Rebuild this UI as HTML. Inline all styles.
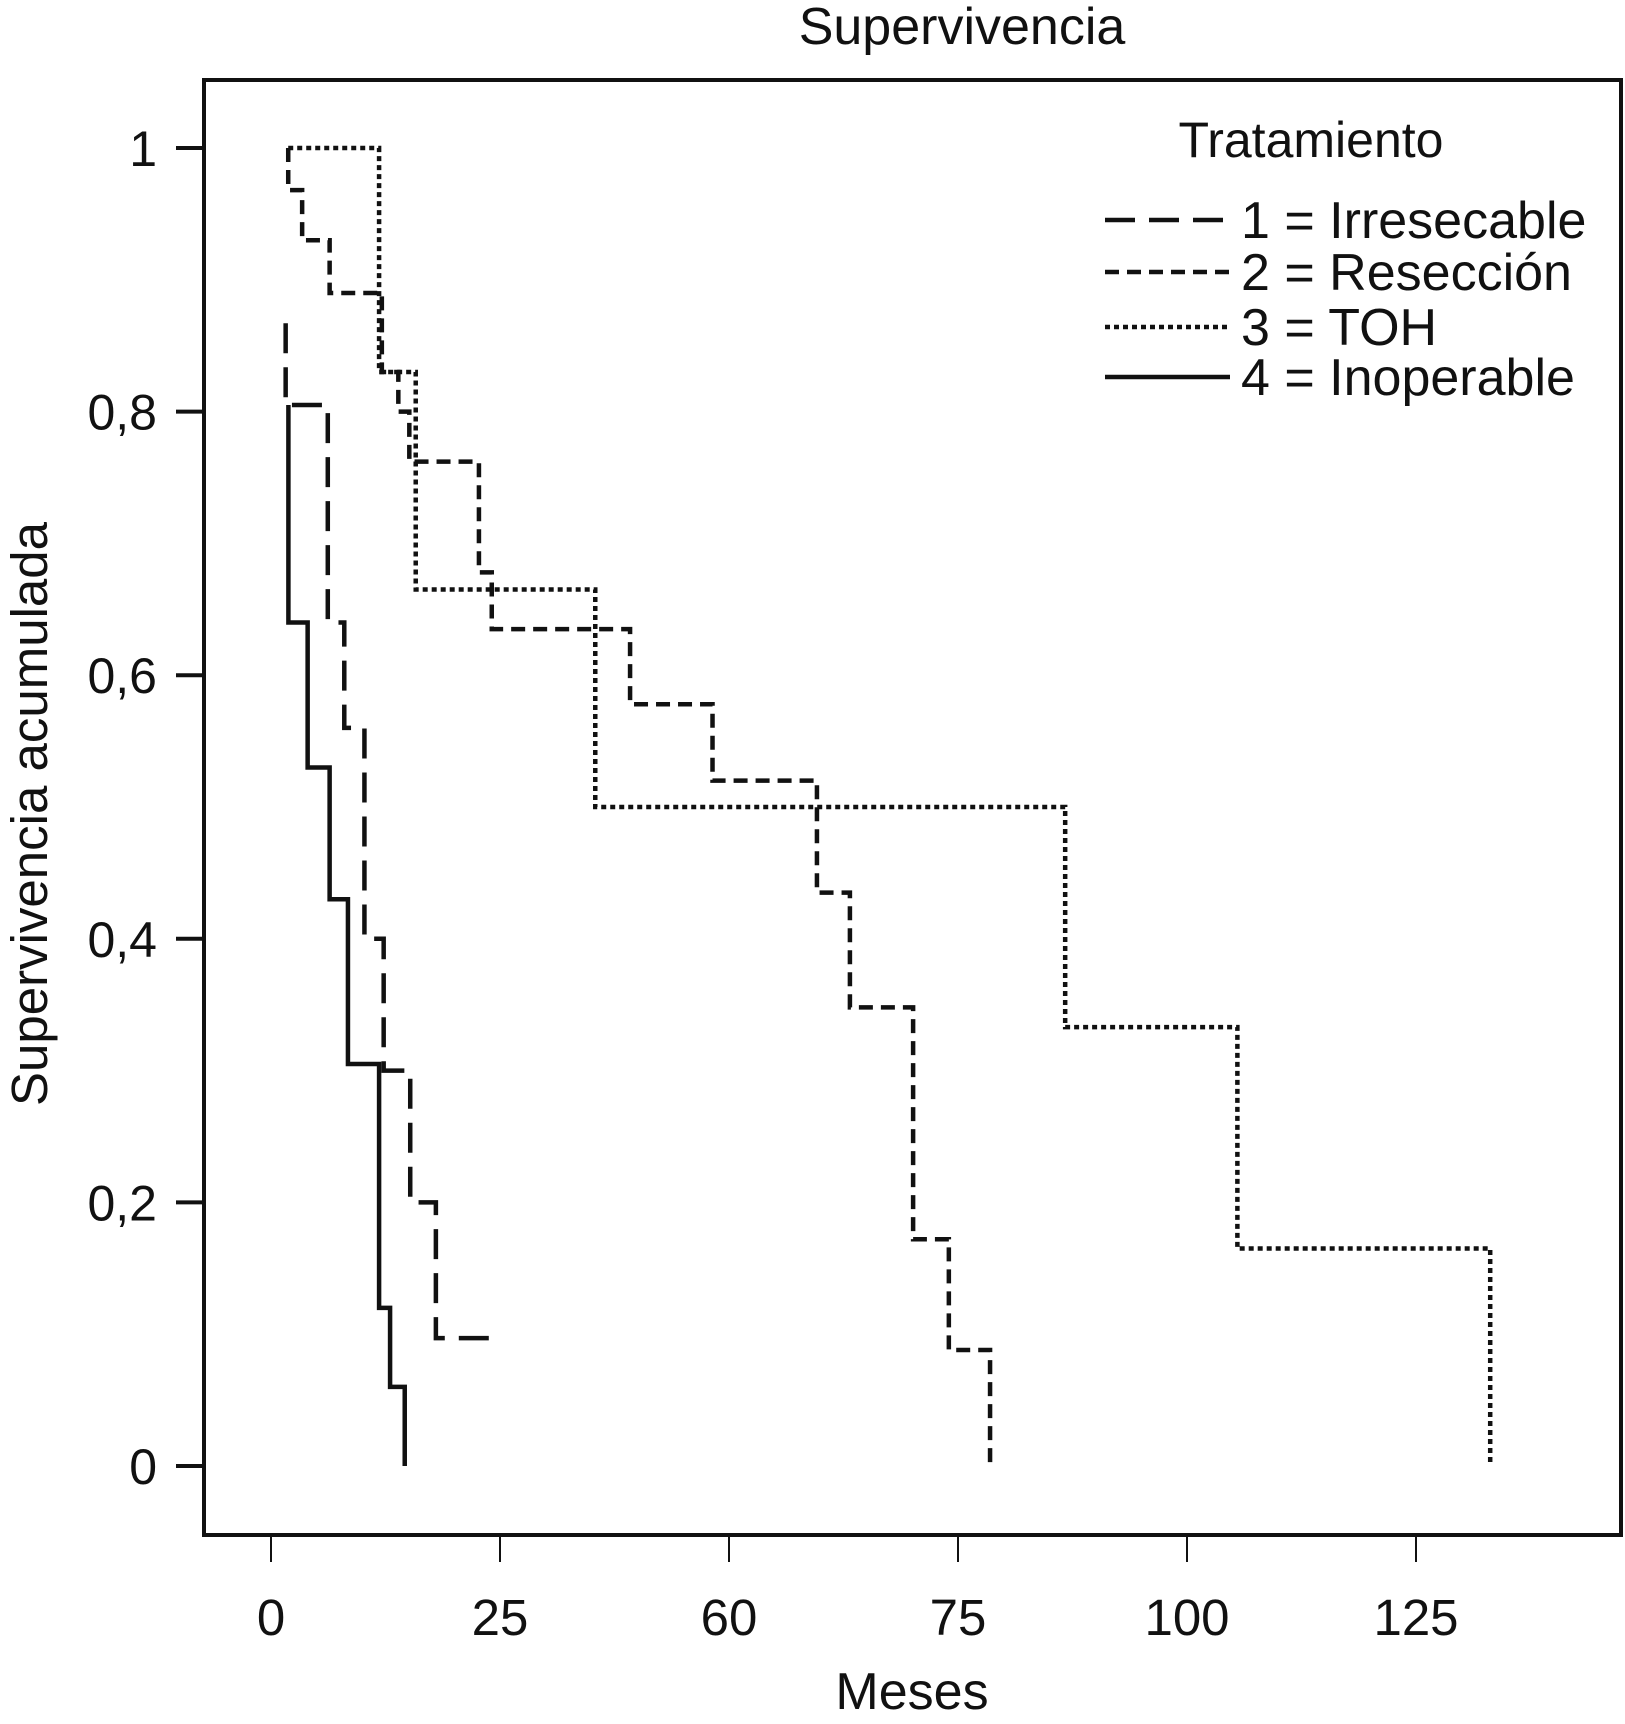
<!DOCTYPE html>
<html><head><meta charset="utf-8"><style>
html,body{margin:0;padding:0;background:#fff;}
svg{display:block;}
text{font-family:"Liberation Sans",sans-serif;fill:#111;}
</style></head><body>
<svg id="chart" width="1625" height="1724" viewBox="0 0 1625 1724" xmlns="http://www.w3.org/2000/svg">
<text x="962" y="44" font-size="52" text-anchor="middle">Supervivencia</text>
<rect x="204" y="80" width="1417" height="1455" fill="none" stroke="#111" stroke-width="4"/>
<g id="yaxis"></g>
<g id="xaxis"></g>
<text x="912" y="1709" font-size="52" text-anchor="middle">Meses</text>
<text transform="translate(47,814) rotate(-90)" font-size="51" text-anchor="middle">Supervivencia acumulada</text>
<g id="series"></g>
<g id="legend">
<text x="1311" y="157" font-size="50" text-anchor="middle">Tratamiento</text>
</g>
</svg>
<script>
const xTickValues=[0,25,50,75,100,125];
const xTickLabels=["0","25","60","75","100","125"];
const yTickValues=[0,0.2,0.4,0.6,0.8,1];
const yTickLabels=["0","0,2","0,4","0,6","0,8","1"];
const seriesNames=["1 = Irresecable","2 = Resección","3 = TOH","4 = Inoperable"];
const startTimes=[1.6,1.88,1.88,1.9];
const startSurv=[0.867,1.0,1.0,0.805];
const times1=[1.6,6.2,8.0,10.2,12.3,15.2,18.0];
const surv1=[0.805,0.64,0.56,0.40,0.30,0.20,0.097];
const times2=[1.88,3.4,6.4,12.1,13.9,15.1,22.7,24.1,39.2,48.2,59.6,63.2,70.1,74.0,78.5];
const surv2=[0.968,0.93,0.89,0.83,0.80,0.762,0.678,0.635,0.578,0.52,0.435,0.348,0.172,0.088,0];
const times3=[11.8,15.8,35.4,86.7,105.5,133.1];
const surv3=[0.83,0.665,0.5,0.333,0.165,0];
const times4=[1.9,4.0,6.4,8.4,11.8,13.0,14.6];
const surv4=[0.64,0.53,0.43,0.305,0.12,0.06,0];
const endTimes=[24.0,78.5,133.1,14.6];

const NS="http://www.w3.org/2000/svg";
const X=v=>271+v*229/25;
const Y=v=>1466-v*1318;
function mk(tag,attrs,parent){const e=document.createElementNS(NS,tag);for(const k in attrs)e.setAttribute(k,attrs[k]);parent.appendChild(e);return e;}
const ya=document.getElementById('yaxis'),xa=document.getElementById('xaxis');
yTickValues.forEach((v,i)=>{
  const l=mk('line',{x1:176,x2:204,y1:Y(v),y2:Y(v),stroke:'#111','stroke-width':4},ya);
  
  
  const t=mk('text',{x:157,y:Y(v)+18,'font-size':50,'text-anchor':'end'},ya);
  t.textContent=yTickLabels[i];
  
  
});
xTickValues.forEach((v,i)=>{
  const l=mk('line',{x1:X(v),x2:X(v),y1:1535,y2:1562,stroke:'#111','stroke-width':2},xa);
  
  
  const t=mk('text',{x:X(v),y:1635,'font-size':51,'text-anchor':'middle'},xa);
  t.textContent=xTickLabels[i];
  
  
});
const allTimes=[times1,times2,times3,times4];
const allSurv=[surv1,surv2,surv3,surv4];
const dashes=["30 14","14 8","5 4","none"];
const sg=document.getElementById('series');
for(let s=0;s<4;s++){
  let d='M'+X(startTimes[s])+' '+Y(startSurv[s]);
  const tt=allTimes[s],ss=allSurv[s];
  for(let i=0;i<tt.length;i++){d+=' H'+X(tt[i])+' V'+Y(ss[i]);}
  d+=' H'+X(endTimes[s]);
  const p=mk('path',{d:d,fill:'none',stroke:'#111','stroke-width':4.5,'stroke-dasharray':dashes[s]},sg);
  
  
}
const lg=document.getElementById('legend');
const rowY=[220,272,327,377];
for(let s=0;s<4;s++){
  const l=mk('line',{x1:1105,x2:1230,y1:rowY[s],y2:rowY[s],stroke:'#111','stroke-width':4.5,'stroke-dasharray':dashes[s]},lg);
  
  
  const t=mk('text',{x:1241,y:rowY[s]+18,'font-size':52},lg);
  t.textContent=seriesNames[s];
  
  
}
</script>
</body></html>
